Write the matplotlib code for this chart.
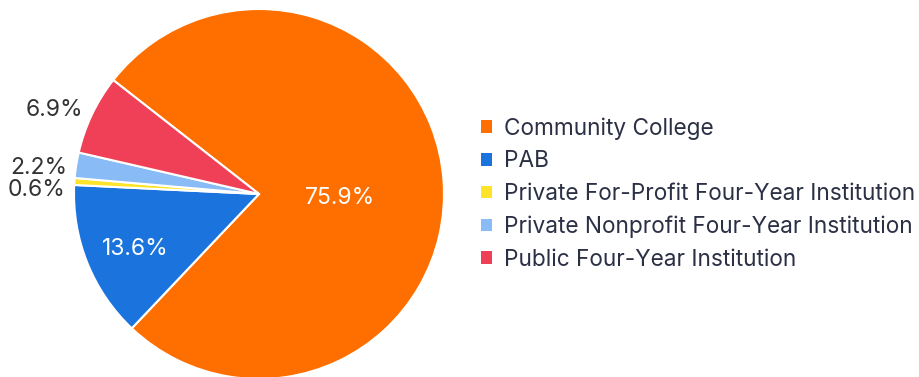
import numpy as np
import matplotlib.pyplot as plt
from matplotlib.patches import Patch

plt.rcParams['font.family'] = ['Inter', 'DejaVu Sans']

# Share of students by institution type
categories = [
    "Community College",
    "PAB",
    "Private For-Profit Four-Year Institution",
    "Private Nonprofit Four-Year Institution",
    "Public Four-Year Institution",
]
shares = [75.9, 13.6, 0.6, 2.2, 6.9]
colors = ["#FF6F00", "#1B74DD", "#FDE428", "#89BBF7", "#EF4057"]

fig = plt.figure(figsize=(9.2, 3.77), dpi=100)
W, H = 920, 377
cx, cy, r = 259, 194, 185
ax = fig.add_axes([(cx - r) / W, (H - cy - r) / H, 2 * r / W, 2 * r / H])

wedges, _ = ax.pie(
    shares, colors=colors, startangle=142, counterclock=False, radius=1,
    wedgeprops=dict(edgecolor="white", linewidth=1.5),
)
ax.set_xlim(-1, 1)
ax.set_ylim(-1, 1)
ax.set_aspect("equal")
ax.axis("off")

# big slices get a white label inside, small ones a dark label outside
inside_r = {0: 0.44, 1: 0.72}
nudge = {0: -0.055, 1: -0.03, 2: -0.05, 3: -0.025}
for i, (w, v) in enumerate(zip(wedges, shares)):
    mid = np.deg2rad((w.theta1 + w.theta2) / 2)
    if i in inside_r:
        d = inside_r[i]
        ax.text(d * np.cos(mid), d * np.sin(mid) + nudge.get(i, 0), f"{v}%",
                color="white", fontsize=16.5, ha="center", va="center")
    else:
        d = 1.05
        ax.text(d * np.cos(mid), d * np.sin(mid) + nudge.get(i, 0), f"{v}%",
                color="#333333", fontsize=16.5, ha="right", va="center")

handles = [Patch(facecolor=c, edgecolor="none") for c in colors]
leg = fig.legend(
    handles, categories, loc="center left",
    bbox_to_anchor=(481 / W, (H - 194) / H), frameon=False,
    fontsize=16.3, handlelength=0.5, handleheight=0.5,
    handletextpad=0.5, labelspacing=0.465, borderaxespad=0, borderpad=0,
)
for t in leg.get_texts():
    t.set_color("#2B3044")

fig.savefig("out.png", dpi=100)
